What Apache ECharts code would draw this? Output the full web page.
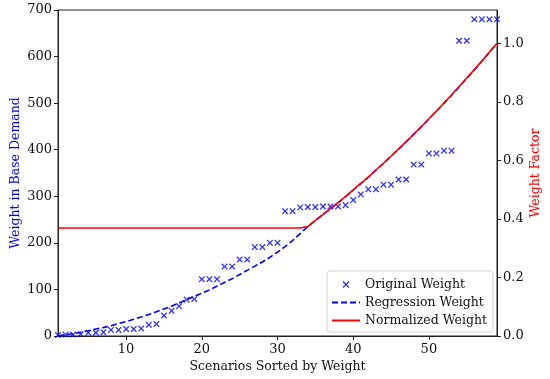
<!DOCTYPE html>
<html>
<head>
<meta charset="utf-8">
<script src="https://cdn.jsdelivr.net/npm/echarts@6/dist/echarts.min.js"></script>
<style>
html,body{margin:0;padding:0;background:#fff;}
#chart{width:550px;height:379px;}
</style>
</head>
<body>
<div id="chart"></div>
<script>
const scenarios = [1,2,3,4,5,6,7,8,9,10,11,12,13,14,15,16,17,18,19,20,21,22,23,24,25,26,27,28,29,30,31,32,33,34,35,36,37,38,39,40,41,42,43,44,45,46,47,48,49,50,51,52,53,54,55,56,57,58,59];
const originalWeight = [2,3,3,4,7,7,8,13,13,15,15,16,24,26,44,54,64,78,79,122,122,122,149,149,164,164,191,191,200,200,268,268,276,277,277,278,278,278,281,292,304,315,315,325,325,336,336,368,368,392,392,398,398,634,634,680,680,680,680];
const regressionWeight = [0,3,5,8,11,15,18,22,27,31,36,41,46,52,58,64,71,78,85,92,99,107,115,123,132,141,150,159,169,180,192,205,220,235,248,261,273,286,299,313,327,341,356,371,386,401,417,433,449,466,483,500,517,535,553,571,590,609,628];
const normalizedWeight = [0.369,0.369,0.369,0.369,0.369,0.369,0.369,0.369,0.369,0.369,0.369,0.369,0.369,0.369,0.369,0.369,0.369,0.369,0.369,0.369,0.369,0.369,0.369,0.369,0.369,0.369,0.369,0.369,0.369,0.369,0.369,0.369,0.369,0.374,0.395,0.415,0.435,0.456,0.477,0.499,0.521,0.543,0.567,0.590,0.614,0.639,0.664,0.689,0.715,0.742,0.768,0.796,0.824,0.852,0.881,0.910,0.939,0.970,1.0];
const xTicks = [10,20,30,40,50];
const leftTicks = [0,100,200,300,400,500,600,700];
const rightTicks = [0,0.2,0.4,0.6,0.8,1.0];

const FONT = 'DejaVu Serif';
const X_PATH = 'path://M0,1.4L1.4,0L5,3.6L8.6,0L10,1.4L6.4,5L10,8.6L8.6,10L5,6.4L1.4,10L0,8.6L3.6,5Z';

const chart = echarts.init(document.getElementById('chart'), null, {renderer: 'canvas'});
const axisLineStyle = {color: '#222', width: 1};
const hidden = {color: 'transparent', borderColor: 'transparent', borderWidth: 0, opacity: 0};
chart.setOption({
  animation: false,
  textStyle: {fontFamily: FONT},
  grid: {left: 58, right: 53, top: 10, bottom: 43, containLabel: false, outerBoundsMode: 'none',
    show: true, borderColor: '#222', borderWidth: 1, backgroundColor: 'transparent'},
  legend: {
    orient: 'vertical', right: 57, bottom: 47,
    backgroundColor: '#fff', borderColor: '#d0d0d0', borderWidth: 1, borderRadius: 3,
    padding: [7, 6, 5, 4], itemGap: 5, itemWidth: 28, itemHeight: 7,
    textStyle: {fontFamily: FONT, fontSize: 12.5, color: '#111'},
    data: [
      {name: 'Original Weight'},
      {name: 'Regression Weight', itemStyle: hidden},
      {name: 'Normalized Weight', itemStyle: hidden}
    ]
  },
  xAxis: {
    type: 'value', min: 1, max: 59,
    name: 'Scenarios Sorted by Weight', nameLocation: 'middle', nameGap: 24, nameMoveOverlap: false,
    nameTextStyle: {fontFamily: FONT, fontSize: 12.5, color: '#111'},
    axisLine: {show: true, lineStyle: axisLineStyle},
    axisTick: {show: true, customValues: xTicks, length: 4, lineStyle: axisLineStyle},
    axisLabel: {customValues: xTicks, fontFamily: FONT, fontSize: 13, color: '#111', margin: 7},
    splitLine: {show: false}
  },
  yAxis: [{
    type: 'value', min: 0, max: 700,
    name: 'Weight in Base Demand', nameLocation: 'middle', nameGap: 36, nameRotate: 90, nameMoveOverlap: false,
    nameTextStyle: {fontFamily: FONT, fontSize: 12.5, color: '#0000ff'},
    axisLine: {show: true, lineStyle: axisLineStyle},
    axisTick: {show: true, customValues: leftTicks, length: 4, lineStyle: axisLineStyle},
    axisLabel: {customValues: leftTicks, fontFamily: FONT, fontSize: 13, color: '#111', margin: 6},
    splitLine: {show: false}
  }, {
    type: 'value', min: 0, max: 1.1136, position: 'right',
    name: 'Weight Factor', nameLocation: 'middle', nameGap: 32, nameRotate: 90, nameMoveOverlap: false,
    nameTextStyle: {fontFamily: FONT, fontSize: 12.5, color: '#ff0000'},
    axisLine: {show: true, lineStyle: axisLineStyle},
    axisTick: {show: true, customValues: rightTicks, length: 4, lineStyle: axisLineStyle},
    axisLabel: {customValues: rightTicks, fontFamily: FONT, fontSize: 13, color: '#111', margin: 6,
      formatter: v => v.toFixed(1)},
    splitLine: {show: false}
  }],
  series: [{
    name: 'Original Weight', type: 'scatter', yAxisIndex: 0,
    symbol: X_PATH, symbolSize: 6.5, symbolKeepAspect: true,
    itemStyle: {color: '#0000ff'},
    data: scenarios.map((x, i) => [x, originalWeight[i]])
  }, {
    name: 'Regression Weight', type: 'line', yAxisIndex: 0,
    symbol: 'none', showSymbol: false,
    lineStyle: {color: '#0000ff', width: 1.6, type: [6, 3]},
    itemStyle: {color: '#0000ff'},
    data: scenarios.map((x, i) => [x, regressionWeight[i]])
  }, {
    name: 'Normalized Weight', type: 'line', yAxisIndex: 1,
    symbol: 'none', showSymbol: false,
    lineStyle: {color: '#ff0000', width: 1.6},
    itemStyle: {color: '#ff0000'},
    data: scenarios.map((x, i) => [x, normalizedWeight[i]])
  }]
});
</script>
</body>
</html>
